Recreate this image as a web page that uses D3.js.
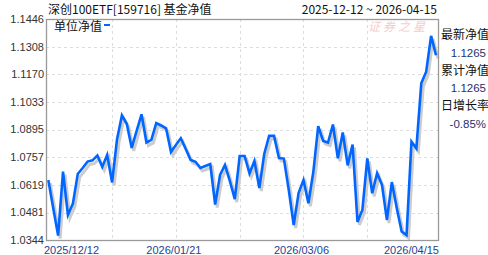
<!DOCTYPE html>
<html>
<head>
<meta charset="utf-8">
<script src="https://cdn.jsdelivr.net/npm/d3@7"></script>
<style>
  body { margin: 0; background: #fff; }
  svg { display: block; }
</style>
</head>
<body>
<div id="chart"></div>
<script>
// net value per trading day, 2025-12-12 .. 2026-04-15
const navValues = [
  1.0643, 1.0504, 1.0366, 1.0685, 1.0469, 1.0524, 1.0673, 1.0703, 1.0735, 1.0741,
  1.0765, 1.0708, 1.0768, 1.0631, 1.0845, 1.0965, 1.0922, 1.0803, 1.0888, 1.0971,
  1.0830, 1.0843, 1.0927, 1.0915, 1.0901, 1.0783, 1.0818, 1.0851, 1.0798, 1.0743,
  1.0734, 1.0703, 1.0713, 1.0723, 1.0521, 1.0668, 1.0718, 1.0638, 1.0548, 1.0763,
  1.0763, 1.0676, 1.0738, 1.0603, 1.0773, 1.0863, 1.0863, 1.0753, 1.0750, 1.0593,
  1.0419, 1.0578, 1.0643, 1.0527, 1.0683, 1.0912, 1.0838, 1.0830, 1.0920, 1.0751,
  1.0880, 1.0716, 1.0820, 1.0434, 1.0494, 1.0751, 1.0577, 1.0677, 1.0618, 1.0444,
  1.0633, 1.0504, 1.0386, 1.0369, 1.0834, 1.0801, 1.1125, 1.1183, 1.1362, 1.1265
]

const yTicks = [1.1446, 1.1308, 1.1170, 1.1033, 1.0895, 1.0757, 1.0619, 1.0481, 1.0344]
const xTickIdx = [0, 26, 52, 79]
const xTickLabels = ["2025/12/12", "2026/01/21", "2026/03/06", "2026/04/15"]
const xGridIdx = [13, 26, 39, 52, 65]

const title = "深创100ETF[159716] 基金净值"
const dateRange = "2025-12-12 ~ 2026-04-15"
const legendLabel = "单位净值"
const sideLabels = ["最新净值", "1.1265", "累计净值", "1.1265", "日增长率", "-0.85%"]

const W = 488, H = 255
const plot = { left: 46, top: 19, right: 438, bottom: 240 }

const svg = d3.select("#chart").append("svg")
  .attr("width", W)
  .attr("height", H)

const x = d3.scaleLinear()
  .domain([0, navValues.length - 1])
  .range([48.3, 436])

const y = d3.scaleLinear()
  .domain([yTicks[yTicks.length - 1], yTicks[0]])
  .range([plot.bottom, plot.top])

const cjk = "'Noto Sans CJK SC', 'Noto Sans', sans-serif"
const num = "'Liberation Sans', Arial, sans-serif"

// grid
svg.append("g")
  .selectAll("line")
  .data(yTicks.slice(1, -1))
  .enter().append("line")
    .attr("x1", plot.left).attr("x2", plot.right)
    .attr("y1", d => Math.round(y(d)) + 0.5)
    .attr("y2", d => Math.round(y(d)) + 0.5)
    .attr("stroke", "#dddddd")
    .attr("stroke-dasharray", "3,3")

svg.append("g")
  .selectAll("line")
  .data(xGridIdx)
  .enter().append("line")
    .attr("x1", d => Math.round(x(d)) + 0.5)
    .attr("x2", d => Math.round(x(d)) + 0.5)
    .attr("y1", plot.top).attr("y2", plot.bottom)
    .attr("stroke", "#dddddd")
    .attr("stroke-dasharray", "3,3")

// watermark
svg.append("text")
  .attr("x", 398).attr("y", 31)
  .attr("text-anchor", "middle")
  .style("font-family", cjk)
  .style("font-size", "12px")
  .style("font-style", "italic")
  .style("letter-spacing", "3px")
  .attr("fill", "#f6cccc")
  .text("证券之星")

// line + shadow
const line = d3.line()
  .x((d, i) => x(i))
  .y(d => y(d))

svg.append("path")
  .datum(navValues)
  .attr("d", line)
  .attr("transform", "translate(2,3)")
  .attr("fill", "none")
  .attr("stroke", "#cccccc")
  .attr("stroke-width", 3)

svg.append("path")
  .datum(navValues)
  .attr("d", line)
  .attr("fill", "none")
  .attr("stroke", "#0066ff")
  .attr("stroke-width", 2.6)
  .attr("stroke-linejoin", "miter")

// frame
svg.append("rect")
  .attr("x", plot.left + 0.5).attr("y", plot.top + 0.5)
  .attr("width", plot.right - plot.left)
  .attr("height", plot.bottom - plot.top)
  .attr("fill", "none")
  .attr("stroke", "#999999")
  .attr("stroke-width", 1.3)

// y labels
svg.append("g")
  .selectAll("text")
  .data(yTicks)
  .enter().append("text")
    .attr("x", plot.left - 2)
    .attr("y", d => y(d))
    .attr("dy", "0.35em")
    .attr("text-anchor", "end")
    .style("font-family", num)
    .style("font-size", "11px")
    .attr("fill", "#333333")
    .text(d => d.toFixed(4))

// x labels
svg.append("g")
  .selectAll("text")
  .data(xTickIdx)
  .enter().append("text")
    .attr("x", (d, i) => i === 0 ? plot.left - 2 : i === xTickIdx.length - 1 ? plot.right + 1 : x(d) - 2)
    .attr("y", 254)
    .attr("text-anchor", (d, i) => i === 0 ? "start" : i === xTickIdx.length - 1 ? "end" : "middle")
    .style("font-family", num)
    .style("font-size", "11px")
    .attr("fill", "#1f3f8f")
    .text((d, i) => xTickLabels[i])

// titles
svg.append("text")
  .attr("x", 48).attr("y", 14)
  .style("font-family", cjk)
  .style("font-size", "12px")
  .attr("fill", "#111")
  .text(title)

svg.append("text")
  .attr("x", 437).attr("y", 14)
  .attr("text-anchor", "end")
  .style("font-family", cjk)
  .style("font-size", "12px")
  .attr("fill", "#111")
  .text(dateRange)

// legend
svg.append("text")
  .attr("x", 54).attr("y", 31)
  .style("font-family", cjk)
  .style("font-size", "12px")
  .attr("fill", "#111")
  .text(legendLabel)

svg.append("rect")
  .attr("x", 104).attr("y", 24)
  .attr("width", 6).attr("height", 2)
  .attr("fill", "#0066ff")

// right side info
const sideY = [35, 53, 71, 88, 106, 124]
svg.append("g")
  .selectAll("text")
  .data(sideLabels)
  .enter().append("text")
    .attr("x", (d, i) => i % 2 === 0 ? 441 : 486)
    .attr("y", (d, i) => sideY[i])
    .attr("dy", "0.35em")
    .attr("text-anchor", (d, i) => i % 2 === 0 ? "start" : "end")
    .style("font-family", (d, i) => i % 2 === 0 ? cjk : num)
    .style("font-size", (d, i) => i % 2 === 0 ? "12px" : "11.5px")
    .attr("fill", (d, i) => i % 2 === 0 ? "#111" : "#1f3070")
    .text(d => d)
</script>
</body>
</html>
